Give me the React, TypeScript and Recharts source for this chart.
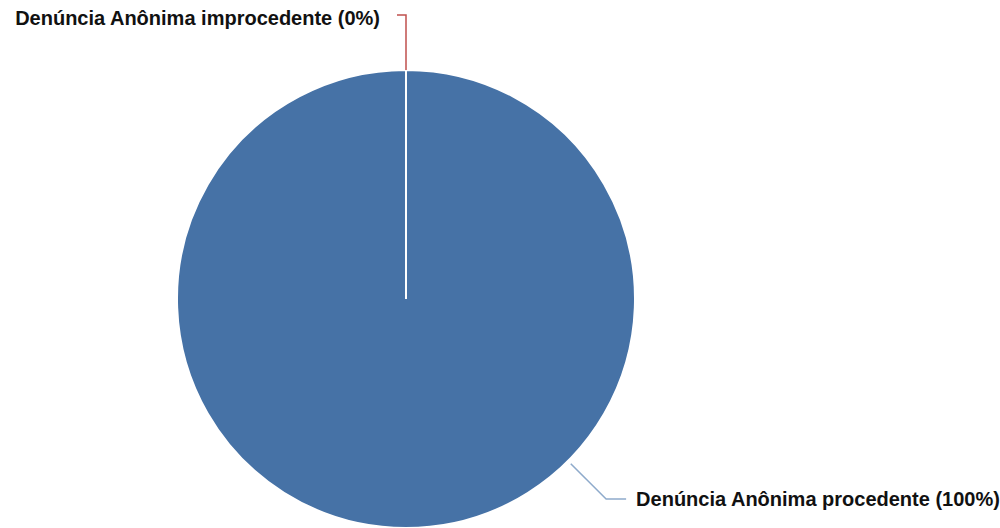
import { PieChart, Pie, Cell } from "recharts";

const names = ["Denúncia Anônima procedente", "Denúncia Anônima improcedente"];
const values = [100, 0];
const colors = ["#4672a6", "#c0504d"];
const lineColors = ["#8eaacb", "#c0504d"];

const data = names.map((name, i) => ({ name, value: values[i] }));

const RAD = Math.PI / 180;

const renderLabel = (props: any) => {
  const { cx, cy, midAngle, outerRadius, percent, index, name } = props;
  const text = `${name} (${Math.round(percent * 100)}%)`;
  const style = { fontFamily: "Liberation Sans, Arial, sans-serif", fontWeight: 700, fontSize: 20 };
  if (percent >= 0.5) {
    // big slice: leader line toward lower right
    const a = -45 * RAD;
    const sx = cx + (outerRadius + 4) * Math.cos(a);
    const sy = cy - (outerRadius + 4) * Math.sin(a);
    const ex = cx + (outerRadius + 54) * Math.cos(a);
    const ey = cy - (outerRadius + 54) * Math.sin(a);
    return (
      <g key={index}>
        <polyline points={`${sx},${sy} ${ex},${ey} ${ex + 20},${ey}`} fill="none" stroke={lineColors[index]} strokeWidth={1.5} />
        <text x={ex + 30} y={ey} dominantBaseline="central" textAnchor="start" fill="#111" style={style}>
          {text}
        </text>
      </g>
    );
  }
  const a = midAngle * RAD;
  const sx = cx + outerRadius * Math.cos(a);
  const sy = cy - outerRadius * Math.sin(a);
  const ey = sy - 55;
  return (
    <g key={index}>
      <polyline points={`${sx},${sy} ${sx},${ey} ${sx - 9},${ey}`} fill="none" stroke={lineColors[index]} strokeWidth={1.5} />
      <text x={sx - 26} y={ey + 3} dominantBaseline="central" textAnchor="end" fill="#111" style={style}>
        {text}
      </text>
    </g>
  );
};

export default function App() {
  return (
    <div style={{ position: "absolute", left: 0, top: 0, background: "#fff" }}>
      <PieChart width={1000} height={528} margin={{ top: 0, right: 0, bottom: 0, left: 0 }}>
        <Pie
          data={data}
          dataKey="value"
          nameKey="name"
          cx={406}
          cy={299}
          outerRadius={229}
          startAngle={90}
          endAngle={-270}
          stroke="#fff"
          strokeWidth={2}
          label={renderLabel}
          labelLine={false}
          isAnimationActive={false}
        >
          {data.map((d, i) => (
            <Cell key={d.name} fill={colors[i]} />
          ))}
        </Pie>
      </PieChart>
    </div>
  );
}
